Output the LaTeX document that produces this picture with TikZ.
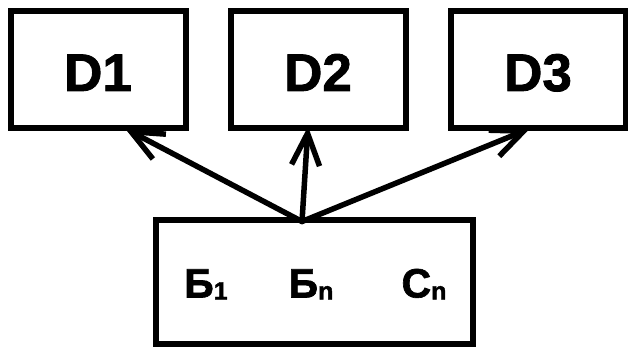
\documentclass[tikz,border=0pt]{standalone}
\usepackage{fontspec}
\setmainfont{Liberation Sans}
\newfontfamily\heavy{Liberation Sans Bold}[FakeBold=1.6]
\newcommand{\lowsub}[1]{\raisebox{-2pt}{\fontsize{25}{25}\selectfont #1}}
\usepackage{tikz}
\usetikzlibrary{arrows.meta,positioning}

\begin{document}
\begin{tikzpicture}[x=1pt, y=-1pt, node distance=39pt,
    box/.style={draw, line width=6pt, minimum width=175pt, minimum height=117pt, inner sep=0pt,
        text height=42pt, text depth=0pt, font=\fontsize{53}{53}\selectfont\heavy},
    sub/.style={anchor=base, font=\fontsize{41}{41}\selectfont\heavy},
    link/.style={line width=5.5pt, line cap=round, -{Straight Barb[length=32pt, width=28pt]}}]
    \useasboundingbox (0,0) rectangle (628,352);
    % top row
    \node[box] (d1) at (98,70) {D1};
    \node[box, right=of d1] (d2) {D2};
    \node[box, right=of d2] (d3) {D3};
    % lower box
    \node[box, minimum width=317pt, minimum height=123pt, below=86pt of d2, xshift=-4pt] (src) {};
    \node[sub] (b1) at ([xshift=-108pt, yshift=-15.5pt]src.center) {Б\lowsub{1}};
    \node[sub] (bn) at ([xshift=-3pt, yshift=-15.5pt]src.center) {Б\lowsub{n}};
    \node[sub] (cn) at ([xshift=110pt, yshift=-15.5pt]src.center) {C\lowsub{n}};
    \coordinate (hub) at ([xshift=-12pt, yshift=-4pt]src.north);

    \draw[link] (hub) -- ([xshift=27pt, yshift=3pt]d1.south);
    \draw[link] (hub) -- ([xshift=-10pt, yshift=5pt]d2.south);
    \draw[link] (hub) -- ([xshift=-8pt, yshift=3pt]d3.south);
\end{tikzpicture}
\end{document}
